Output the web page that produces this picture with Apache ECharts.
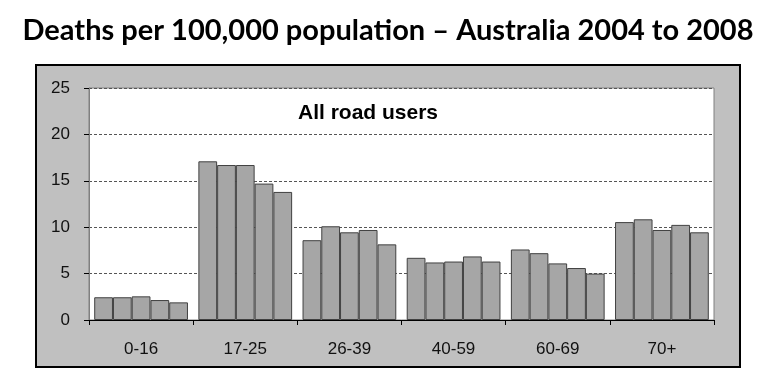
<!DOCTYPE html>
<html><head><meta charset="utf-8">
<script src="https://cdn.jsdelivr.net/npm/echarts@6/dist/echarts.min.js"></script>
<style>html,body{margin:0;padding:0;background:#fff}#c{width:776px;height:370px}</style>
</head><body><div id="c"></div>
<script>
const categories = ['0-16', '17-25', '26-39', '40-59', '60-69', '70+'];
const years = ['2004', '2005', '2006', '2007', '2008'];
const v2004 = [2.45, 17.1, 8.6, 6.7, 7.6, 10.55];
const v2005 = [2.45, 16.7, 10.1, 6.2, 7.2, 10.85];
const v2006 = [2.55, 16.7, 9.45, 6.3, 6.1, 9.7];
const v2007 = [2.15, 14.7, 9.7, 6.85, 5.6, 10.25];
const v2008 = [1.9, 13.8, 8.15, 6.3, 5.0, 9.45];
const yTicks = [0, 5, 10, 15, 20, 25];
const seriesValues = [v2004, v2005, v2006, v2007, v2008];

const chart = echarts.init(document.getElementById('c'), null, {renderer: 'canvas'});
chart.setOption({
  backgroundColor: '#fff',
  animation: false,
  title: {
    text: 'Deaths per 100,000 population \u2013 Australia 2004 to 2008',
    left: 'center', top: 11,
    textStyle: {fontFamily: 'Lato', fontWeight: 'bold', fontSize: 29, color: '#000'}
  },
  graphic: [
    {type: 'rect', z: -10, shape: {x: 36, y: 65, width: 704, height: 302},
     style: {fill: '#c0c0c0', stroke: '#000', lineWidth: 2}},
    {type: 'text', z: 10, left: 298, top: 103,
     style: {text: 'All road users', font: 'bold 21px "Liberation Sans", Arial', fill: '#000'}}
  ],
  grid: {left: 89, right: 62, top: 88, bottom: 50, show: true,
    backgroundColor: '#fff', borderColor: '#808080', borderWidth: 1},
  xAxis: {
    type: 'category', data: categories,
    axisLine: {lineStyle: {color: '#000', width: 1}},
    axisTick: {show: true, length: 5, lineStyle: {color: '#000'}},
    axisLabel: {margin: 21, fontFamily: 'Liberation Sans', fontSize: 17, color: '#111'}
  },
  yAxis: {
    type: 'value', min: yTicks[0], max: yTicks[yTicks.length - 1], interval: 5,
    axisLine: {show: true, lineStyle: {color: '#808080'}},
    axisTick: {show: true, length: 5, lineStyle: {color: '#000'}},
    axisLabel: {margin: 19, fontFamily: 'Liberation Sans', fontSize: 17, color: '#111'},
    splitLine: {show: true, lineStyle: {color: '#555', type: [3, 2], width: 1}}
  },
  series: seriesValues.map((vals, i) => ({
    name: years[i], type: 'bar', data: vals,
    barGap: '0%', barCategoryGap: '10%',
    itemStyle: {color: '#a6a6a6', borderColor: '#404040', borderWidth: 1}
  }))
});
</script></body></html>
